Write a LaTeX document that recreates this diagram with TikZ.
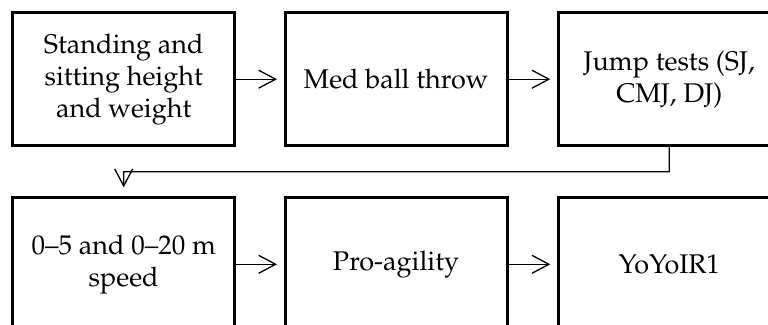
\documentclass[tikz,border=0pt]{standalone}
\usepackage[T1]{fontenc}
\usepackage{palatino}
\usetikzlibrary{arrows.meta,calc}
\tikzset{
  stepbox/.style={draw=black, line width=3pt, minimum width=222pt, minimum height=133pt,
    inner sep=0pt, align=center, font=\fontsize{27}{32}\selectfont},
  flow/.style={line width=1.3pt, -{Straight Barb[length=17pt,width=18pt,line width=1.3pt]}, shorten >=6.5pt}
}
\begin{document}
\begin{tikzpicture}[x=1pt,y=-1pt]
\useasboundingbox (0,0) rectangle (768,324);
\node[stepbox] (a) at (123.7,79.2) {Standing and\\sitting height\\and weight};
\node[stepbox] (b) at (396,79.2) {Med ball throw};
\node[stepbox] (c) at (669.3,79.2) {Jump tests (SJ,\\CMJ, DJ)};
\node[stepbox] (d) at (123.7,264.3) {0--5 and 0--20 m\\speed};
\node[stepbox] (e) at (396,264.3) {Pro-agility};
\node[stepbox] (f) at (669.3,264.3) {YoYoIR1};
\coordinate (m) at ($(c.south)!0.5!(f.north)$);
\draw[flow] (a) -- (b);
\draw[flow] (b) -- (c);
\draw[flow] (d) -- (e);
\draw[flow] (e) -- (f);
\draw[flow, shorten >=9pt] (c.south) -- (m) -| (d.north);
\end{tikzpicture}
\end{document}
